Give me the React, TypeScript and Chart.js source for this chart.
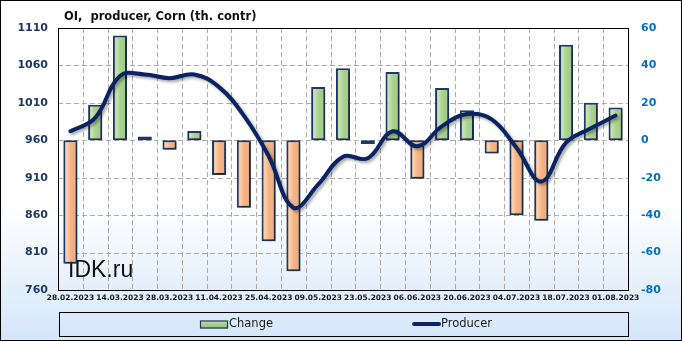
import React, { useEffect, useRef } from 'react';
import { Chart, registerables } from 'chart.js';

Chart.register(...registerables);

const categories = [
  '28.02.2023', '07.03.2023', '14.03.2023', '21.03.2023', '28.03.2023', '04.04.2023',
  '11.04.2023', '18.04.2023', '25.04.2023', '02.05.2023', '09.05.2023', '16.05.2023',
  '23.05.2023', '30.05.2023', '06.06.2023', '13.06.2023', '20.06.2023', '27.06.2023',
  '04.07.2023', '11.07.2023', '18.07.2023', '25.07.2023', '01.08.2023',
];

const changeValues = [
  -66, 19, 56, 2, -5, 5, -18.5, -36, -54, -70, 28.5, 38.5,
  -2, 36.5, -20.5, 28, 16, -7, -40, -43, 51, 20, 17.5,
];

const producerValues = [
  972, 990, 1046, 1048, 1043, 1048, 1031, 993, 939, 870, 901, 938,
  936, 972, 952, 979, 995, 988, 950, 905, 957, 976, 993,
];

const leftMin = 760;
const leftMax = 1110;
const leftStep = 50;
const rightMin = -80;
const rightMax = 60;
const rightStep = 20;

const titleText = 'OI,  producer, Corn (th. contr)';
const watermarkText = 'IDK.ru';
const changeLabel = 'Change';
const producerLabel = 'Producer';

const NAVY = '#1f3864';
const LINE = '#0a2463';
const GRID = '#ababab';

const barFill = (ctx: any) => {
  const chart = ctx.chart;
  const xs = chart.scales && chart.scales.x;
  const i = ctx.dataIndex;
  const v = i !== undefined ? changeValues[i] : 1;
  const pos = v >= 0;
  const flat = pos ? '#a9d18e' : '#f4b183';
  if (!xs || i === undefined) return flat;
  const cx = xs.getPixelForValue(i);
  if (!isFinite(cx)) return flat;
  const g = chart.ctx.createLinearGradient(cx - 7, 0, cx + 7, 0);
  if (pos) {
    g.addColorStop(0, '#86b26a');
    g.addColorStop(0.22, '#c9e5b5');
    g.addColorStop(0.5, '#abd391');
    g.addColorStop(0.82, '#a3cc88');
    g.addColorStop(1, '#7ea563');
  } else {
    g.addColorStop(0, '#d9925f');
    g.addColorStop(0.22, '#fcd2b0');
    g.addColorStop(0.5, '#f6b586');
    g.addColorStop(0.82, '#f1ad7d');
    g.addColorStop(1, '#cf8755');
  }
  return g;
};

const decorPlugin = {
  id: 'decor',
  beforeDraw(chart: any) {
    const { ctx, width, height } = chart;
    ctx.save();
    const g = ctx.createLinearGradient(0, 0, 0, height);
    g.addColorStop(0, '#ffffff');
    g.addColorStop(0.6, '#ffffff');
    g.addColorStop(1, '#d3e6fa');
    ctx.fillStyle = g;
    ctx.fillRect(0, 0, width, height);
    ctx.restore();
  },
  beforeDatasetsDraw(chart: any) {
    const { ctx, chartArea } = chart;
    const ys = chart.scales.y;
    const xs = chart.scales.x;
    ctx.save();
    ctx.globalAlpha = 1;
    ctx.shadowColor = 'rgba(0,0,0,0)';
    ctx.strokeStyle = GRID;
    ctx.lineWidth = 1;
    ctx.setLineDash([5, 3]);
    const yVals: number[] = [];
    for (let v = leftMin; v <= leftMax; v += leftStep) yVals.push(v);
    yVals.forEach((v) => {
      const y = Math.round(ys.getPixelForValue(v)) + 0.5;
      ctx.beginPath();
      ctx.moveTo(chartArea.left, y);
      ctx.lineTo(chartArea.right, y);
      ctx.stroke();
    });
    for (let i = 1; i < categories.length; i++) {
      const x = Math.round((xs.getPixelForValue(i - 1) + xs.getPixelForValue(i)) / 2) + 0.5;
      ctx.beginPath();
      ctx.moveTo(x, chartArea.top);
      ctx.lineTo(x, chartArea.bottom);
      ctx.stroke();
    }
    ctx.setLineDash([]);
    ctx.fillStyle = '#111111';
    ctx.font = '23px "Liberation Sans", Arial, sans-serif';
    ctx.textBaseline = 'alphabetic';
    ctx.textAlign = 'left';
    ctx.fillText(watermarkText, chartArea.left + 10, chartArea.bottom - 13);
    ctx.restore();
  },
  beforeDatasetDraw(chart: any) {
    const { ctx } = chart;
    ctx.save();
    ctx.shadowColor = 'rgba(0,0,0,0.35)';
    ctx.shadowBlur = 3;
    ctx.shadowOffsetX = 2;
    ctx.shadowOffsetY = 2;
  },
  afterDatasetDraw(chart: any) {
    chart.ctx.restore();
  },
  afterDraw(chart: any) {
    const { ctx, chartArea, width, height } = chart;
    ctx.save();
    ctx.strokeStyle = '#000000';
    ctx.lineWidth = 1;
    ctx.strokeRect(chartArea.left + 0.5, chartArea.top + 0.5, chartArea.right - chartArea.left, chartArea.bottom - chartArea.top);
    ctx.strokeRect(0.5, 0.5, width - 1, height - 1);
    ctx.fillStyle = '#111111';
    ctx.font = 'bold 11.5px "DejaVu Sans", sans-serif';
    ctx.textAlign = 'left';
    ctx.textBaseline = 'alphabetic';
    ctx.fillText(titleText, chartArea.left + 6, 19.5);
    const boxTop = chartArea.bottom + 22;
    const boxBottom = height - 5;
    ctx.strokeStyle = '#000000';
    ctx.strokeRect(chartArea.left + 1.5, boxTop + 0.5, chartArea.right - chartArea.left - 1, boxBottom - boxTop);
    const midY = (boxTop + boxBottom) / 2 + 0.5;
    ctx.font = '11.5px "DejaVu Sans", sans-serif';
    ctx.textBaseline = 'middle';
    const iconW = 28;
    const gap = 139;
    const w1 = iconW + 1 + ctx.measureText(changeLabel).width;
    const w2 = iconW + 1 + ctx.measureText(producerLabel).width;
    const total = w1 + gap + w2;
    let x = (chartArea.left + chartArea.right) / 2 + 3 - total / 2;
    const gg = ctx.createLinearGradient(0, midY - 4, 0, midY + 4);
    gg.addColorStop(0, '#c4e0ae');
    gg.addColorStop(1, '#8fbb72');
    ctx.fillStyle = gg;
    ctx.fillRect(x, midY - 4, iconW, 8);
    ctx.strokeStyle = NAVY;
    ctx.lineWidth = 1.2;
    ctx.strokeRect(x + 0.5, midY - 3.5, iconW - 1, 7);
    ctx.fillStyle = '#1a1a1a';
    ctx.fillText(changeLabel, x + iconW + 1, midY);
    x += w1 + gap;
    ctx.strokeStyle = LINE;
    ctx.lineWidth = 4;
    ctx.lineCap = 'round';
    ctx.beginPath();
    ctx.moveTo(x + 2, midY - 0.5);
    ctx.lineTo(x + iconW - 1, midY - 0.5);
    ctx.stroke();
    ctx.fillStyle = '#1a1a1a';
    ctx.fillText(producerLabel, x + iconW + 1, midY);
    ctx.restore();
  },
};

export default function App() {
  const ref = useRef<HTMLCanvasElement | null>(null);

  useEffect(() => {
    document.body.style.margin = '0';
    if (!ref.current) return;
    const chart = new Chart(ref.current, {
      type: 'bar',
      data: {
        labels: categories,
        datasets: [
          {
            type: 'line',
            label: producerLabel,
            data: producerValues,
            yAxisID: 'y',
            borderColor: LINE,
            borderWidth: 4,
            pointRadius: 0,
            tension: 0.4,
            fill: false,
            borderCapStyle: 'round',
            order: 0,
          } as any,
          {
            type: 'bar',
            label: changeLabel,
            data: changeValues,
            yAxisID: 'y1',
            backgroundColor: barFill as any,
            borderColor: NAVY,
            borderWidth: 2,
            borderSkipped: false,
            barPercentage: 0.57,
            categoryPercentage: 1,
            order: 1,
          } as any,
        ],
      },
      options: {
        responsive: false,
        animation: false,
        devicePixelRatio: 1,
        layout: { padding: { top: 28, bottom: 31, left: 0, right: 0 } },
        plugins: {
          legend: { display: false },
          title: { display: false },
          tooltip: { enabled: false },
        },
        scales: {
          x: {
            offset: true,
            grid: { display: false, drawTicks: false },
            border: { display: false },
            ticks: {
              autoSkip: false,
              maxRotation: 0,
              minRotation: 0,
              padding: 4,
              color: '#1a1a1a',
              font: { family: '"DejaVu Sans", sans-serif', size: 7.5, weight: 'bold' },
              callback: (_v: any, i: number) => (i % 2 === 0 ? categories[i] : ''),
            },
            afterFit: (s: any) => { s.height = 20; },
          },
          y: {
            position: 'left',
            min: leftMin,
            max: leftMax,
            grid: { display: false, drawTicks: false },
            border: { display: false },
            ticks: {
              stepSize: leftStep,
              padding: 10,
              color: NAVY,
              font: { family: '"DejaVu Sans", sans-serif', size: 11, weight: 'bold' },
              callback: (v: any) => String(v),
            },
            afterFit: (s: any) => { s.width = 58; },
          },
          y1: {
            position: 'right',
            min: rightMin,
            max: rightMax,
            grid: { display: false, drawTicks: false },
            border: { display: false },
            ticks: {
              stepSize: rightStep,
              padding: 13,
              color: '#0070c0',
              font: { family: '"DejaVu Sans", sans-serif', size: 11, weight: 'bold' },
              callback: (v: any) => String(v),
            },
            afterFit: (s: any) => { s.width = 54; },
          },
        },
      } as any,
      plugins: [decorPlugin],
    });
    return () => chart.destroy();
  }, []);

  return (
    <div style={{ width: 682, height: 341 }}>
      <canvas ref={ref} width={682} height={341} style={{ display: 'block' }} />
    </div>
  );
}
